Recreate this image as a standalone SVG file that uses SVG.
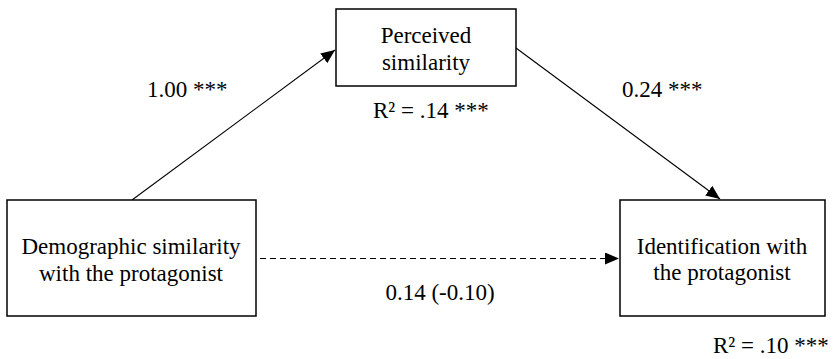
<svg xmlns="http://www.w3.org/2000/svg" width="833" height="359" viewBox="0 0 833 359">
<style>
.box{fill:#fff;stroke:#000;stroke-width:1.5}
.t{font-family:"Liberation Serif","Times New Roman",serif;font-size:23px;fill:#000}
.c{text-anchor:middle}
.ln{stroke:#000;stroke-width:1.1;fill:none}
.dash{stroke-dasharray:6 4}
</style>
<defs>
<marker id="ah" markerUnits="userSpaceOnUse" markerWidth="15" markerHeight="12" refX="14" refY="6" orient="auto">
<path d="M0,0 L14,6 L0,12 Z" fill="#000"/>
</marker>
</defs>
<rect width="833" height="359" fill="#fff"/>
<g id="connectors">
<line class="ln" x1="132" y1="200" x2="335" y2="50" marker-end="url(#ah)"/>
<line class="ln" x1="516" y1="48" x2="720" y2="199" marker-end="url(#ah)"/>
<line class="ln dash" x1="260" y1="258.5" x2="619" y2="258.5" marker-end="url(#ah)"/>
<text class="t" x="147" y="97">1.00 ***</text>
<text class="t" x="622" y="97">0.24 ***</text>
<text class="t c" x="440" y="300">0.14 (-0.10)</text>
</g>
<g id="perceived">
<rect class="box" x="336" y="9" width="180" height="77"/>
<text class="t c" x="426" y="43">Perceived</text>
<text class="t c" x="426" y="70">similarity</text>
<text class="t" x="373" y="118">R² = .14 ***</text>
</g>
<g id="demographic">
<rect class="box" x="7" y="200" width="249" height="116"/>
<text class="t c" x="131" y="254">Demographic similarity</text>
<text class="t c" x="131" y="281">with the protagonist</text>
</g>
<g id="identification">
<rect class="box" x="620" y="200" width="205" height="116"/>
<text class="t c" x="722" y="254">Identification with</text>
<text class="t c" x="722" y="280">the protagonist</text>
<text class="t" x="713" y="353">R² = .10 ***</text>
</g>
</svg>
